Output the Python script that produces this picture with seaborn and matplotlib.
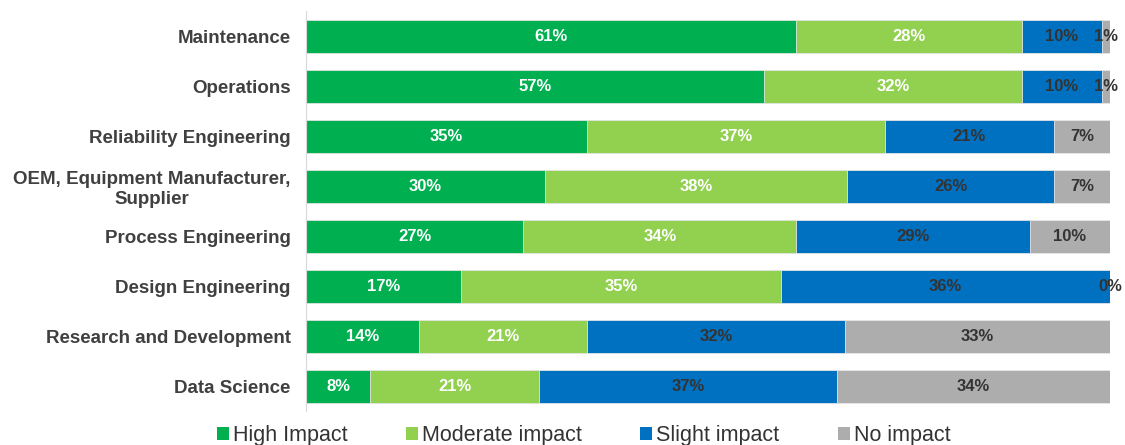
import pandas as pd
import seaborn as sns
import matplotlib.pyplot as plt
from matplotlib.patches import Patch

roles = ["Maintenance", "Operations", "Reliability Engineering",
         "OEM, Equipment Manufacturer,\nSupplier", "Process Engineering",
         "Design Engineering", "Research and Development", "Data Science"]
high = [61, 57, 35, 30, 27, 17, 14, 8]
moderate = [28, 32, 37, 38, 34, 35, 21, 21]
slight = [10, 10, 21, 26, 29, 36, 32, 37]
none_ = [1, 1, 7, 7, 10, 0, 33, 34]

series = ["High Impact", "Moderate impact", "Slight impact", "No impact"]
colors = ["#00B050", "#92D050", "#0070C0", "#ADADAD"]
text_colors = ["white", "white", "#333333", "#333333"]

df = pd.DataFrame({"role": roles, "High Impact": high, "Moderate impact": moderate,
                   "Slight impact": slight, "No impact": none_})
total = df[series].sum(axis=1)
share = df[series].div(total, axis=0) * 100
cum = share.cumsum(axis=1)

sns.set_style("white")
plt.rcParams["font.family"] = ["Liberation Sans", "DejaVu Sans"]

fig = plt.figure(figsize=(11.25, 4.45), dpi=100)
ax = fig.add_axes([0.272, 0.0764, 0.7147, 0.8986])

# draw cumulative layers, widest first so narrower ones sit on top
for i in reversed(range(len(series))):
    sns.barplot(x=cum[series[i]], y=df["role"], color=colors[i], orient="h",
                width=0.66, saturation=1, edgecolor="#e6e6e6", linewidth=0.6, ax=ax)

for i, s in enumerate(series):
    left = cum[s] - share[s]
    for j in range(len(df)):
        ax.text(left[j] + share[s][j] / 2, j, f"{df[s][j]}%", ha="center", va="center",
                color=text_colors[i], fontsize=12, fontweight="bold")

ax.set_xlim(0, 100)
ax.set_ylim(7.5, -0.5)
ax.set_xlabel("")
ax.set_ylabel("")
ax.set_xticks([])
for sp in ["top", "right", "bottom"]:
    ax.spines[sp].set_visible(False)
ax.spines["left"].set_color("#d9d9d9")
ax.tick_params(axis="y", length=0, pad=11)
for lab in ax.get_yticklabels():
    lab.set_fontsize(13.5)
    lab.set_fontweight("bold")
    lab.set_color("#404040")
    lab.set_multialignment("center")

handles = [Patch(facecolor=c, edgecolor="none") for c in colors]
fig.legend(handles, series, loc="center", bbox_to_anchor=(0.519, 0.022), ncol=4,
           frameon=False, fontsize=15.5, handlelength=0.55, handleheight=0.55,
           handletextpad=0.2, columnspacing=2.7, labelcolor="#333333")

fig.savefig("out.png", dpi=100)
